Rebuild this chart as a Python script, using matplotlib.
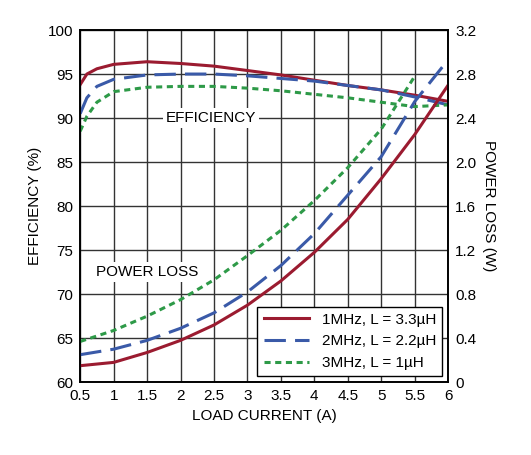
import matplotlib
matplotlib.use("Agg")
import matplotlib.pyplot as plt

plt.rcParams['font.family'] = ['Liberation Sans', 'DejaVu Sans']

# efficiency (%) vs load current (A)
x_eff = [0.5, 0.6, 0.75, 1, 1.5, 2, 2.5, 3, 3.5, 4, 4.5, 5, 5.5, 6]
eff_1mhz = [93.8, 95.0, 95.6, 96.1, 96.4, 96.2, 95.9, 95.4, 94.9, 94.3, 93.7, 93.2, 92.6, 91.9]
eff_2mhz = [90.5, 92.3, 93.6, 94.4, 94.9, 95.0, 95.0, 94.8, 94.5, 94.2, 93.7, 93.2, 92.4, 91.5]
eff_3mhz = [88.5, 90.2, 91.8, 93.0, 93.5, 93.6, 93.6, 93.4, 93.1, 92.7, 92.3, 91.8, 91.3, 91.5]

# power loss (W)
x_loss = [0.5, 1, 1.5, 2, 2.5, 3, 3.5, 4, 4.5, 5, 5.5, 6]
loss_1mhz = [0.15, 0.18, 0.27, 0.38, 0.52, 0.70, 0.92, 1.18, 1.48, 1.85, 2.25, 2.70]
loss_2mhz = [0.25, 0.30, 0.38, 0.49, 0.63, 0.82, 1.06, 1.35, 1.70, 2.05, 2.55, 2.93]
x_loss3 = [0.5, 1, 1.5, 2, 2.5, 3, 3.5, 4, 4.5, 5, 5.5]
loss_3mhz = [0.37, 0.47, 0.60, 0.75, 0.93, 1.15, 1.38, 1.65, 1.95, 2.30, 2.78]

labels = ["1MHz, L = 3.3\u00b5H", "2MHz, L = 2.2\u00b5H", "3MHz, L = 1\u00b5H"]
red, blue, green = "#9b1b30", "#3a5aa8", "#2e9a48"

fig = plt.figure(figsize=(5.31, 4.55), dpi=100)
ax = fig.add_axes([0.151, 0.160, 0.693, 0.774])
ax2 = ax.twinx()

ax.plot(x_eff, eff_1mhz, color=red, lw=2.2)
ax.plot(x_eff, eff_2mhz, color=blue, lw=2.2, dashes=(7, 3))
ax.plot(x_eff, eff_3mhz, color=green, lw=2.2, dashes=(2, 1.5))
l1, = ax2.plot(x_loss, loss_1mhz, color=red, lw=2.2)
l2, = ax2.plot(x_loss, loss_2mhz, color=blue, lw=2.2, dashes=(7, 3))
l3, = ax2.plot(x_loss3, loss_3mhz, color=green, lw=2.2, dashes=(2, 1.5))

ax.set_xlim(0.5, 6)
ax.set_ylim(60, 100)
ax2.set_ylim(0, 3.2)
ax.set_xticks([0.5 * i for i in range(1, 13)])
ax.set_xticklabels(["0.5", "1", "1.5", "2", "2.5", "3", "3.5", "4", "4.5", "5", "5.5", "6"])
ax.set_yticks(range(60, 101, 5))
ax2.set_yticks([0.4 * i for i in range(9)])
ax2.set_yticklabels(["0", "0.4", "0.8", "1.2", "1.6", "2.0", "2.4", "2.8", "3.2"])
ax.grid(True, color="#333333", lw=1)
for a in (ax, ax2):
    a.tick_params(length=0, labelsize=11, pad=5)
    for s in a.spines.values():
        s.set_linewidth(1.2)

ax.set_xlabel("LOAD CURRENT (A)", fontsize=11)
ax.set_ylabel("EFFICIENCY (%)", fontsize=11)
ax2.set_ylabel("POWER LOSS (W)", fontsize=11, rotation=270, labelpad=14)

ax.text(2.45, 90.0, "EFFICIENCY", fontsize=11, ha="center", va="center",
        bbox=dict(facecolor="white", edgecolor="none", pad=2))
ax.text(1.5, 72.5, "POWER LOSS", fontsize=11, ha="center", va="center",
        bbox=dict(facecolor="white", edgecolor="none", pad=2))

leg = ax2.legend([l1, l2, l3], labels, loc="lower right", fontsize=11,
                 frameon=True, fancybox=False, edgecolor="black",
                 framealpha=1, handlelength=3, borderaxespad=0.4)
leg.get_frame().set_linewidth(1.0)

fig.savefig("out.png", dpi=100)
